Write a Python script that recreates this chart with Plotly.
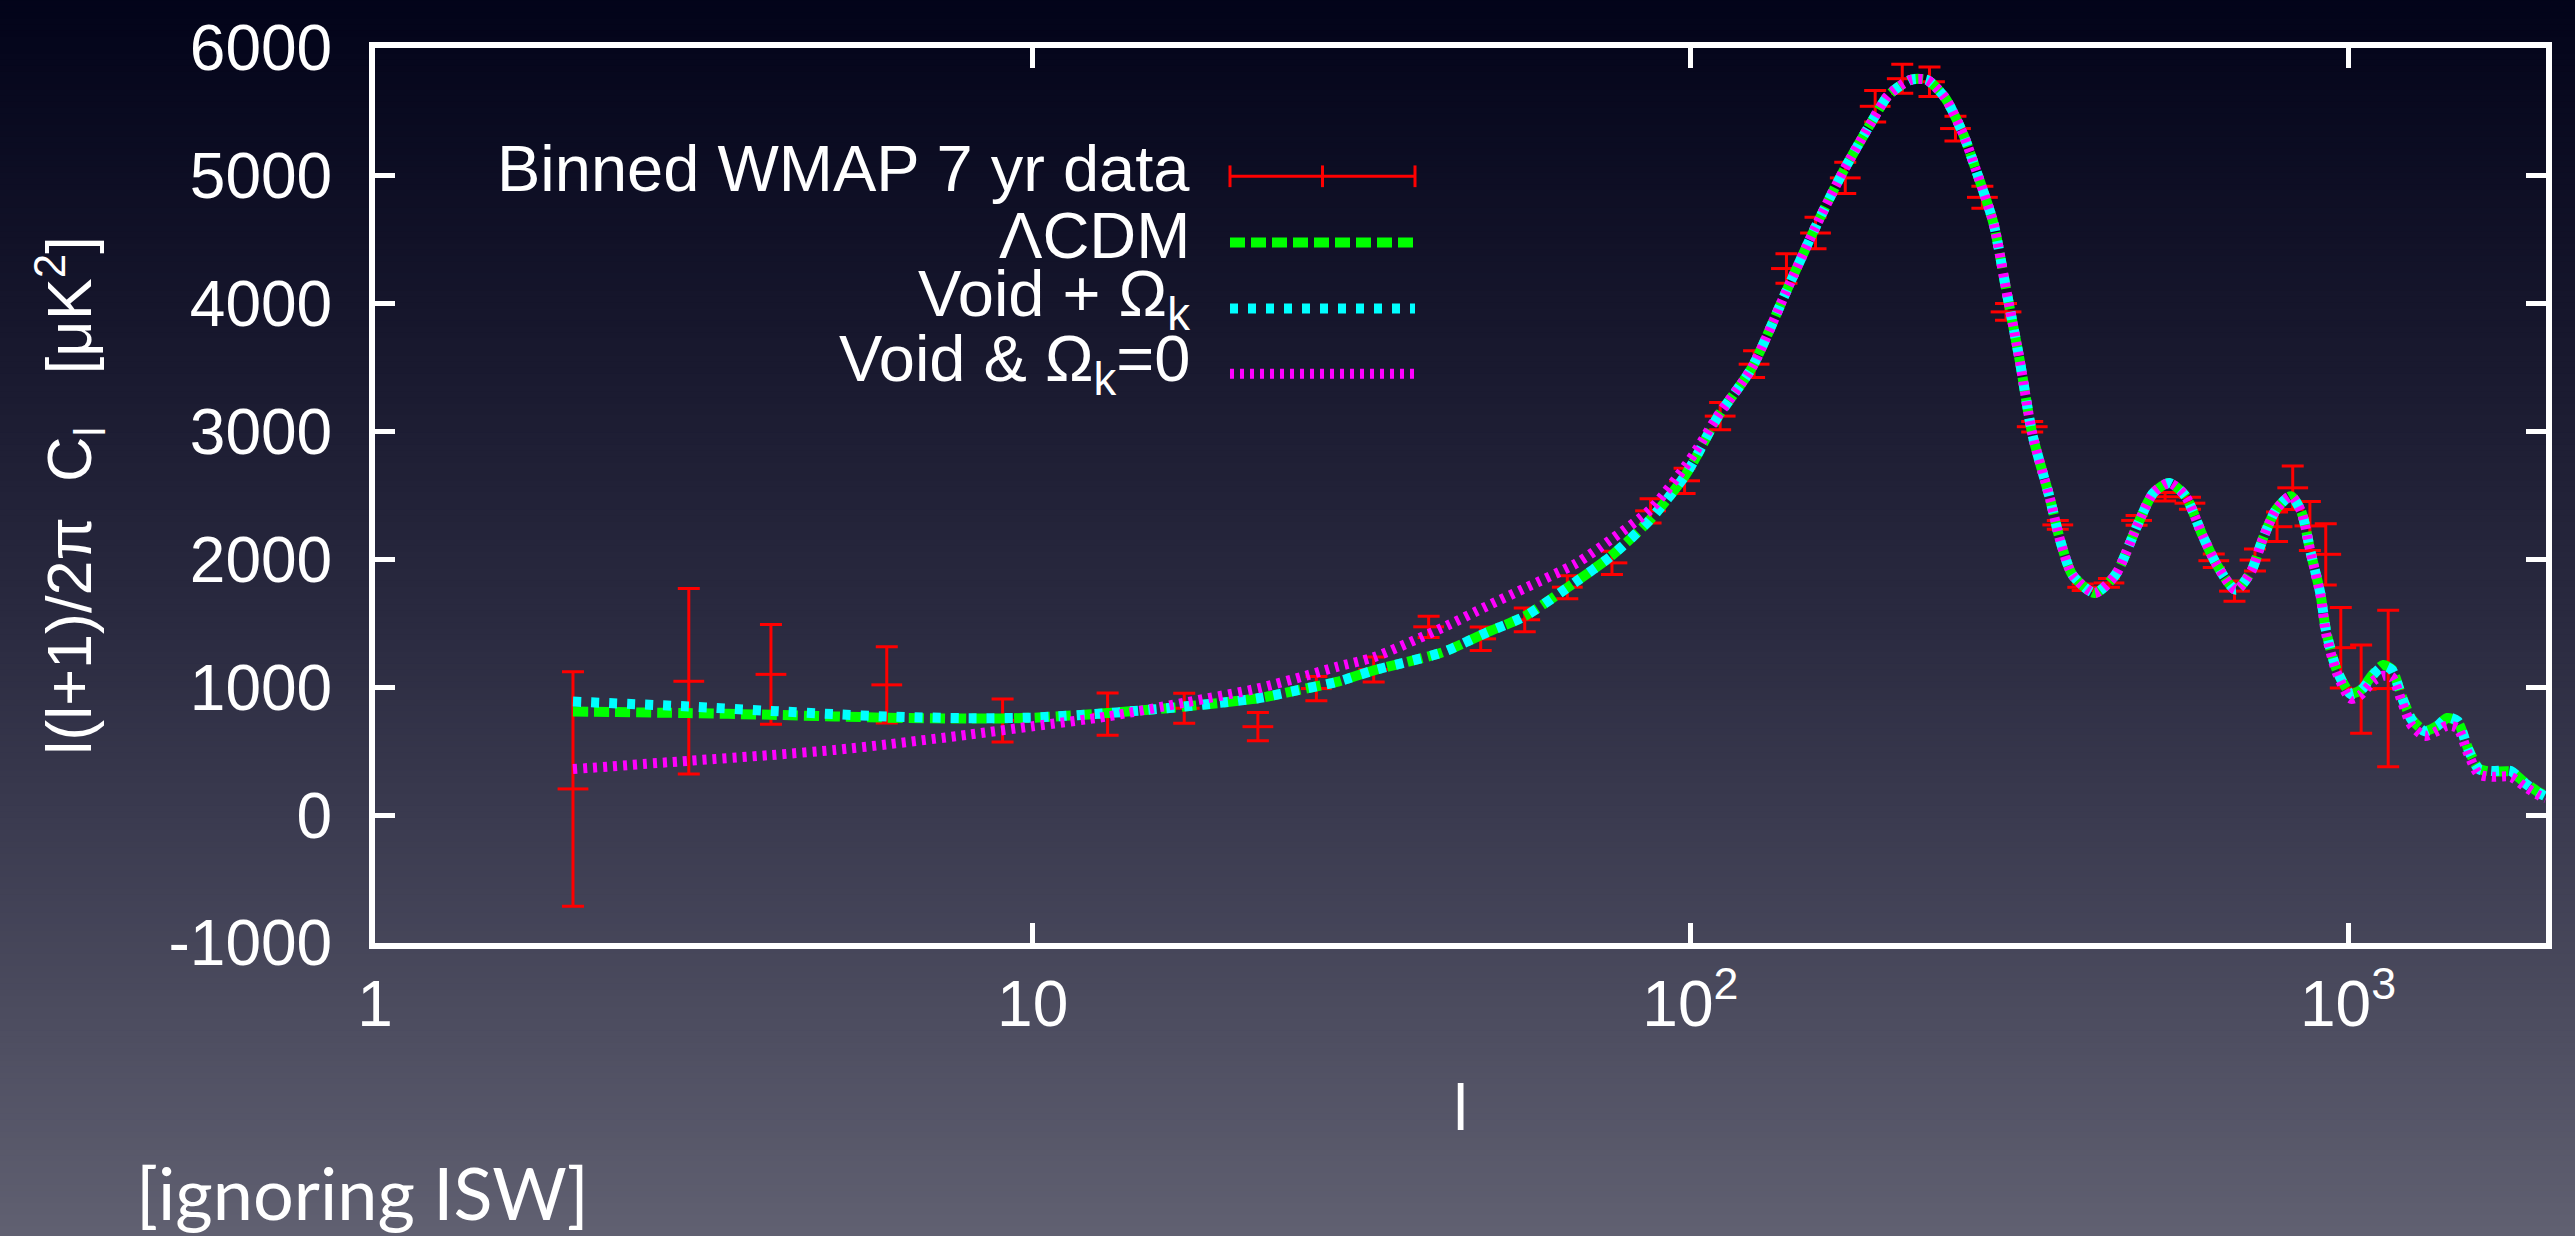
import plotly.graph_objects as go

# ---- Binned WMAP 7-year TT band powers: multipole, D_l, 1-sigma error ----
wmap_ell = [2, 3, 4, 6, 9, 13, 17, 22, 27, 33, 40, 48, 56, 65, 76, 87, 98, 111,
            125, 140, 155, 172, 191, 210, 231, 253, 278, 302, 331, 362, 395, 433,
            477, 527, 575, 625, 672, 722, 780, 824, 875, 925, 975, 1047, 1151]
wmap_dl = [205, 1047, 1101, 1019, 741, 790, 836, 692, 990, 1139, 1473, 1379, 1528,
           1783, 1973, 2380, 2615, 3121, 3527, 4275, 4553, 4984, 5544, 5760, 5736,
           5370, 4832, 3936, 3038, 2270, 1782, 1816, 2305, 2490, 2440, 1990, 1752,
           1995, 2256, 2560, 2262, 2040, 1310, 985, 990]
wmap_err = [917, 726, 390, 298, 168, 166, 118, 110, 95, 97, 83, 92, 93, 90, 90, 95,
            99, 107, 105, 115, 123, 122, 123, 113, 116, 97, 86, 65, 41, 34, 25, 34,
            38, 33, 47, 53, 79, 86, 115, 170, 192, 240, 315, 345, 612]

# ---- Model spectra sampled on a common multipole grid ----
model_ell = [2, 3, 4, 5, 6, 8, 10, 13, 17, 22,
             26, 29, 33, 42, 49, 56, 67, 76, 87, 98,
             102, 110, 124, 140, 155, 171, 189, 200, 216, 229,
             244, 260, 272, 289, 302, 317, 331, 352, 365, 381,
             412, 443, 478, 506, 535, 566, 601, 632, 675, 712,
             742, 778, 819, 850, 877, 908, 926, 962, 1010, 1045,
             1093, 1131, 1166, 1207, 1250, 1309, 1369, 1415, 1468, 1523,
             1581, 1654, 1768, 1849, 1942, 2000]
lcdm_dl = [810, 798, 785, 772, 762, 755, 762, 798, 849, 914,
           990, 1042, 1132, 1274, 1428, 1556, 1826, 2032, 2315, 2650,
           2800, 3113, 3498, 4100, 4600, 5040, 5430, 5630, 5750, 5750,
           5610, 5325, 5042, 4630, 4116, 3549, 2984, 2480, 2150, 1880,
           1737, 1880, 2264, 2521, 2598, 2495, 2187, 1955, 1762, 1904,
           2161, 2393, 2495, 2367, 2058, 1730, 1441, 1132, 952, 978,
           1106, 1175, 1140, 930, 750, 660, 700, 760, 730, 520,
           365, 340, 340, 262, 185, 150]
void_curv_dl = [888, 850, 815, 790, 772, 758, 763, 798, 849, 914,
                990, 1042, 1132, 1274, 1428, 1556, 1826, 2032, 2315, 2650,
                2800, 3113, 3498, 4100, 4600, 5040, 5430, 5630, 5750, 5750,
                5610, 5325, 5042, 4630, 4116, 3549, 2984, 2480, 2150, 1880,
                1737, 1880, 2264, 2521, 2598, 2495, 2187, 1955, 1762, 1904,
                2161, 2393, 2495, 2367, 2058, 1730, 1441, 1132, 945, 972,
                1100, 1165, 1135, 925, 745, 655, 700, 765, 735, 515,
                360, 345, 345, 258, 180, 145]
void_flat_dl = [360, 425, 470, 510, 553, 630, 695, 772, 880, 991,
                1090, 1160, 1235, 1466, 1633, 1775, 1968, 2161, 2392, 2720,
                2850, 3120, 3498, 4100, 4600, 5040, 5430, 5630, 5750, 5750,
                5610, 5325, 5042, 4630, 4116, 3549, 2984, 2480, 2150, 1880,
                1737, 1880, 2264, 2521, 2598, 2495, 2187, 1955, 1762, 1904,
                2161, 2393, 2495, 2367, 2058, 1720, 1420, 1110, 910, 940,
                1050, 1090, 1080, 890, 700, 620, 660, 700, 680, 480,
                320, 300, 300, 230, 160, 130]

x_tick_vals = [1, 10, 100, 1000]
x_tick_text = ["1", "10", "10<sup>2</sup>", "10<sup>3</sup>"]
y_tick_vals = [-1000, 0, 1000, 2000, 3000, 4000, 5000, 6000]
y_tick_text = ["-1000", "0", "1000", "2000", "3000", "4000", "5000", "6000"]

W, H = 2575, 1236
M_L, M_R, M_T, M_B = 375, 29, 36, 293
FONT = "Liberation Sans, Arial, sans-serif"

fig = go.Figure()

# data with error bars
fig.add_trace(go.Scatter(
    x=wmap_ell, y=wmap_dl, mode="markers",
    marker=dict(symbol="line-ew", size=22, color="#ff0000",
                line=dict(color="#ff0000", width=3)),
    error_y=dict(type="data", array=wmap_err, color="#ff0000",
                 thickness=3, width=11),
    name="Binned WMAP 7 yr data", showlegend=False,
))

curve_styles = [
    (lcdm_dl, "#00ff00", "15px,6px", "ΛCDM"),
    (void_curv_dl, "#00ffff", "8px,10px", "Void + Ω<sub>k</sub>"),
    (void_flat_dl, "#ff00ff", "4px,6px", "Void & Ω<sub>k</sub>=0"),
]
for vals, col, dash, label in curve_styles:
    fig.add_trace(go.Scatter(
        x=model_ell, y=vals, mode="lines",
        line=dict(color=col, width=10, dash=dash, shape="spline", smoothing=0.7),
        name=label, showlegend=False,
    ))

# vertical background gradient (dark navy at top to grey-blue at bottom)
stops = [(0.0, (3, 4, 26)), (0.25, (22, 22, 44)), (0.5, (42, 42, 64)),
         (0.75, (68, 68, 88)), (1.0, (96, 96, 113))]


def grad_color(t):
    t = min(max(t, 0.0), 1.0)
    for (t0, c0), (t1, c1) in zip(stops[:-1], stops[1:]):
        if t <= t1:
            f = (t - t0) / (t1 - t0)
            return "rgb(%d,%d,%d)" % tuple(round(a + (b - a) * f) for a, b in zip(c0, c1))
    return "rgb(%d,%d,%d)" % stops[-1][1]


pw = W - M_L - M_R
ph = H - M_T - M_B


def px_x(px):
    return (px - M_L) / pw


def px_y(py):
    return (H - M_B - py) / ph


shapes = []
band = 6
for top in range(-30, H + 30, band):
    t = (top + band / 2) / H
    shapes.append(dict(
        type="rect", xref="paper", yref="paper", layer="below",
        x0=px_x(-60), x1=px_x(W + 60), y0=px_y(top + band + 1), y1=px_y(top),
        fillcolor=grad_color(t), line=dict(width=0),
    ))

# hand-built legend: right-aligned labels with the line sample to their right
leg_x0, leg_x1, leg_text_x = 1230, 1415, 1192
rows = [166, 233, 300, 366]
text_rows = [158, 226, 290, 356]
annotations = []
labels = ["Binned WMAP 7 yr data"] + [c[3] for c in curve_styles]
for label, ty in zip(labels, text_rows):
    annotations.append(dict(
        x=px_x(leg_text_x), y=px_y(ty), xref="paper", yref="paper",
        text=label, showarrow=False, xanchor="right", yanchor="middle",
        font=dict(family=FONT, size=65, color="white"),
    ))

# red error-bar sample
ry = rows[0]
shapes.append(dict(type="line", xref="paper", yref="paper",
                   x0=px_x(leg_x0), x1=px_x(leg_x1), y0=px_y(ry), y1=px_y(ry),
                   line=dict(color="#ff0000", width=3)))
for sx in (leg_x0, (leg_x0 + leg_x1) / 2, leg_x1):
    shapes.append(dict(type="line", xref="paper", yref="paper",
                       x0=px_x(sx), x1=px_x(sx), y0=px_y(ry - 11), y1=px_y(ry + 11),
                       line=dict(color="#ff0000", width=3)))
for (vals, col, dash, label), ry in zip(curve_styles, rows[1:]):
    shapes.append(dict(type="line", xref="paper", yref="paper",
                       x0=px_x(leg_x0), x1=px_x(leg_x1), y0=px_y(ry), y1=px_y(ry),
                       line=dict(color=col, width=10, dash=dash)))

annotations.append(dict(
    x=px_x(134), y=px_y(1195), xref="paper", yref="paper",
    text="[ignoring ISW]", showarrow=False, xanchor="left", yanchor="middle",
    font=dict(family="Lato, sans-serif", size=72, color="white"),
))

axis_common = dict(
    showline=True, linecolor="white", linewidth=6, mirror="allticks",
    ticks="inside", ticklen=20, tickwidth=5, tickcolor="white",
    showgrid=False, zeroline=False,
    tickfont=dict(family=FONT, size=64, color="white"),
)

fig.update_layout(
    width=W, height=H, autosize=False,
    margin=dict(l=M_L, r=M_R, t=M_T, b=M_B, pad=0),
    paper_bgcolor="rgb(40,40,60)", plot_bgcolor="rgba(0,0,0,0)",
    xaxis=dict(type="log", range=[0, 3.30103], tickvals=x_tick_vals,
               ticktext=x_tick_text, ticklabelstandoff=0,
               title=dict(text="l", font=dict(family=FONT, size=64, color="white"),
                          standoff=48),
               **axis_common),
    yaxis=dict(range=[-1000, 6000], tickvals=y_tick_vals, ticktext=y_tick_text,
               ticklabelstandoff=24,
               title=dict(text="l(l+1)/2π\u00a0\u00a0C<sub>l</sub>\u00a0\u00a0\u00a0[μK<sup>2</sup>]",
                          font=dict(family=FONT, size=63, color="white"),
                          standoff=58),
               **axis_common),
    shapes=shapes, annotations=annotations, showlegend=False,
)

fig.write_html("out.html")
